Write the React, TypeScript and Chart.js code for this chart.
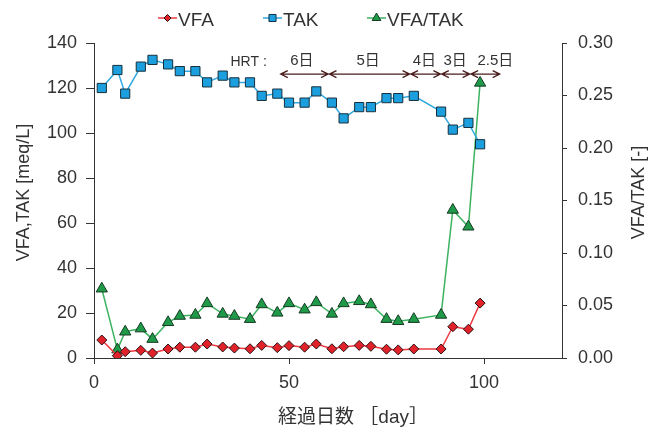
import { useEffect, useRef } from "react";
import { Chart, registerables } from "chart.js";

Chart.register(...registerables);

// Elapsed days of each sampling
const days = [2, 6, 8, 12, 15, 19, 22, 26, 29, 33, 36, 40, 43, 47, 50, 54, 57, 61, 64, 68, 71, 75, 78, 82, 89, 92, 96, 99];
// Volatile fatty acids [meq/L]
const vfa = [8, 1, 2.8, 3.4, 2.2, 4, 4.8, 4.8, 6.2, 4.9, 4.4, 4.1, 5.6, 4.6, 5.5, 4.8, 6.2, 4.1, 5.0, 5.6, 5.2, 3.9, 3.6, 4.0, 4.0, 13.9, 12.8, 24.4];
// Total alkalinity [meq/L]
const tak = [120, 128, 117.5, 129.5, 132.5, 130.5, 127.5, 127.5, 122.5, 125.5, 122.5, 122.5, 116.5, 117.5, 113.5, 113.5, 118.5, 113.5, 106.5, 111.5, 111.5, 115.5, 115.5, 116.5, 109.5, 101.5, 104.5, 95];
// VFA/TAK ratio [-]
const ratio = [0.066, 0.008, 0.025, 0.028, 0.018, 0.034, 0.04, 0.041, 0.052, 0.042, 0.04, 0.037, 0.051, 0.043, 0.052, 0.046, 0.053, 0.042, 0.052, 0.054, 0.051, 0.037, 0.035, 0.037, 0.041, 0.141, 0.125, 0.262];

// HRT periods: boundaries in days and the labels between them
const hrtBounds = [47.7, 60.2, 81.1, 89, 96.5, 104.2];
const hrtLabels = ["6日", "5日", "4日", "3日", "2.5日"];
const hrtLabelDays = [53.3, 70.3, 84.7, 92.6, 102.9];

const seriesNames = ["VFA", "TAK", "VFA/TAK"];
const leftTitle = "VFA,TAK [meq/L]";
const rightTitle = "VFA/TAK [-]";
const bottomTitle = "経過日数 ［day］";

const FONT = "'Liberation Sans', Arial, 'Noto Sans CJK JP', sans-serif";
const TEXT = "#333333";
const AXIS = "#333333";

const styles = [
  { line: "#ee3a40", fill: "#e2222b", edge: "#2a1212", shape: "rectRot", r: 5 },
  { line: "#31a8e0", fill: "#1c9fde", edge: "#16303c", shape: "rect", r: 6.5 },
  { line: "#3db361", fill: "#1f9a49", edge: "#163a22", shape: "triangle", r: 6.5 },
];

function drawMarker(ctx: CanvasRenderingContext2D, shape: string, x: number, y: number, r: number) {
  ctx.beginPath();
  if (shape === "rect") {
    const s = r * Math.SQRT1_2;
    ctx.rect(x - s, y - s, 2 * s, 2 * s);
  } else if (shape === "rectRot") {
    ctx.moveTo(x - r, y);
    ctx.lineTo(x, y - r);
    ctx.lineTo(x + r, y);
    ctx.lineTo(x, y + r);
    ctx.closePath();
  } else {
    ctx.moveTo(x, y - r);
    ctx.lineTo(x + r * 0.866, y + r * 0.5);
    ctx.lineTo(x - r * 0.866, y + r * 0.5);
    ctx.closePath();
  }
  ctx.fill();
  ctx.stroke();
}

function drawDoubleArrow(ctx: CanvasRenderingContext2D, x1: number, x2: number, y: number) {
  const h = 7;
  const w = 3.5;
  ctx.beginPath();
  ctx.moveTo(x1, y);
  ctx.lineTo(x2, y);
  ctx.moveTo(x1 + h, y - w);
  ctx.lineTo(x1, y);
  ctx.lineTo(x1 + h, y + w);
  ctx.moveTo(x2 - h, y - w);
  ctx.lineTo(x2, y);
  ctx.lineTo(x2 - h, y + w);
  ctx.stroke();
}

const decorations = {
  id: "decorations",
  afterDraw(chart: any) {
    const ctx: CanvasRenderingContext2D = chart.ctx;
    const area = chart.chartArea;
    const xs = chart.scales.x;
    const ys = chart.scales.y;
    ctx.save();

    // legend
    const legendX = [158, 263, 367];
    const legendY = 18;
    seriesNames.forEach((name, i) => {
      const st = styles[i];
      const x0 = legendX[i];
      ctx.strokeStyle = st.line;
      ctx.lineWidth = 1.5;
      ctx.beginPath();
      ctx.moveTo(x0, legendY);
      ctx.lineTo(x0 + 19, legendY);
      ctx.stroke();
      ctx.fillStyle = st.fill;
      ctx.strokeStyle = st.edge;
      ctx.lineWidth = 1;
      drawMarker(ctx, st.shape, x0 + 9.5, legendY, st.r - 1.5);
      ctx.fillStyle = TEXT;
      ctx.font = `19px ${FONT}`;
      ctx.textAlign = "left";
      ctx.textBaseline = "middle";
      ctx.fillText(name, x0 + 20, legendY + 3);
    });

    // axis titles
    ctx.fillStyle = TEXT;
    ctx.font = `18px ${FONT}`;
    ctx.textAlign = "center";
    ctx.textBaseline = "middle";
    const midY = (area.top + area.bottom) / 2 - 8;
    ctx.save();
    ctx.translate(area.left - 70, midY);
    ctx.rotate(-Math.PI / 2);
    ctx.fillText(leftTitle, 0, 0);
    ctx.restore();
    ctx.save();
    ctx.translate(area.right + 77, midY);
    ctx.rotate(-Math.PI / 2);
    ctx.fillText(rightTitle, 0, 0);
    ctx.restore();
    ctx.font = `19px ${FONT}`;
    ctx.fillText(bottomTitle, (area.left + area.right) / 2 + 25, area.bottom + 60);

    // HRT periods
    const arrowY = ys.getPixelForValue(126.2);
    const labelY = ys.getPixelForValue(132);
    ctx.strokeStyle = "#4a1c1c";
    ctx.lineWidth = 1.3;
    for (let i = 0; i < hrtLabels.length; i++) {
      const a = xs.getPixelForValue(hrtBounds[i]) + 0.7;
      const b = xs.getPixelForValue(hrtBounds[i + 1]) - 0.7;
      drawDoubleArrow(ctx, a, b, arrowY);
    }
    ctx.fillStyle = TEXT;
    ctx.font = `15px ${FONT}`;
    ctx.textAlign = "center";
    hrtLabels.forEach((t, i) => {
      ctx.fillText(t, xs.getPixelForValue(hrtLabelDays[i]), labelY);
    });
    ctx.font = `14px ${FONT}`;
    ctx.textAlign = "right";
    ctx.fillText("HRT :", xs.getPixelForValue(44.3), labelY + 1);

    ctx.restore();
  },
};

export default function App() {
  const ref = useRef<HTMLCanvasElement | null>(null);

  useEffect(() => {
    if (!ref.current) return;
    const mk = (vals: number[]) => days.map((d, i) => ({ x: d, y: vals[i] }));
    const ds = [vfa, tak, ratio].map((vals, i) => {
      const st = styles[i];
      return {
        label: seriesNames[i],
        data: mk(vals),
        yAxisID: i === 2 ? "y1" : "y",
        borderColor: st.line,
        borderWidth: 1.5,
        pointStyle: st.shape,
        pointRadius: st.r,
        pointBackgroundColor: st.fill,
        pointBorderColor: st.edge,
        pointBorderWidth: 1,
        tension: 0,
        fill: false,
      };
    });

    const tickFont = { family: FONT, size: 18 };
    const chart = new Chart(ref.current, {
      type: "line",
      data: { datasets: ds as any },
      options: {
        responsive: false,
        animation: false,
        layout: { padding: { top: 43, left: 0, right: 0, bottom: 0 } },
        plugins: { legend: { display: false }, tooltip: { enabled: false } },
        scales: {
          x: {
            type: "linear",
            min: 0,
            max: 120,
            ticks: { stepSize: 50, includeBounds: false, font: tickFont, color: TEXT, padding: 8 },
            grid: { drawOnChartArea: false, drawTicks: true, tickLength: 6, color: AXIS },
            border: { display: true, color: AXIS, width: 1 },
            afterFit: (s: any) => {
              s.height = 71;
            },
          },
          y: {
            type: "linear",
            position: "left",
            min: 0,
            max: 140,
            ticks: { stepSize: 20, font: tickFont, color: TEXT, padding: 9 },
            grid: { drawOnChartArea: false, drawTicks: true, tickLength: 8, color: AXIS },
            border: { display: true, color: AXIS, width: 1 },
            afterFit: (s: any) => {
              s.width = 94;
            },
          },
          y1: {
            type: "linear",
            position: "right",
            min: 0,
            max: 0.3,
            ticks: {
              stepSize: 0.05,
              font: tickFont,
              color: TEXT,
              padding: 11,
              callback: (v: any) => Number(v).toFixed(2),
            },
            grid: { drawOnChartArea: false, drawTicks: true, tickLength: 5, color: AXIS },
            border: { display: true, color: AXIS, width: 1 },
            afterFit: (s: any) => {
              s.width = 99;
            },
          },
        },
      } as any,
      plugins: [decorations],
    });
    return () => chart.destroy();
  }, []);

  return (
    <div style={{ position: "fixed", left: 0, top: 0, width: 661, height: 429, background: "#fff" }}>
      <canvas ref={ref} width={661} height={429} style={{ display: "block" }} />
    </div>
  );
}
